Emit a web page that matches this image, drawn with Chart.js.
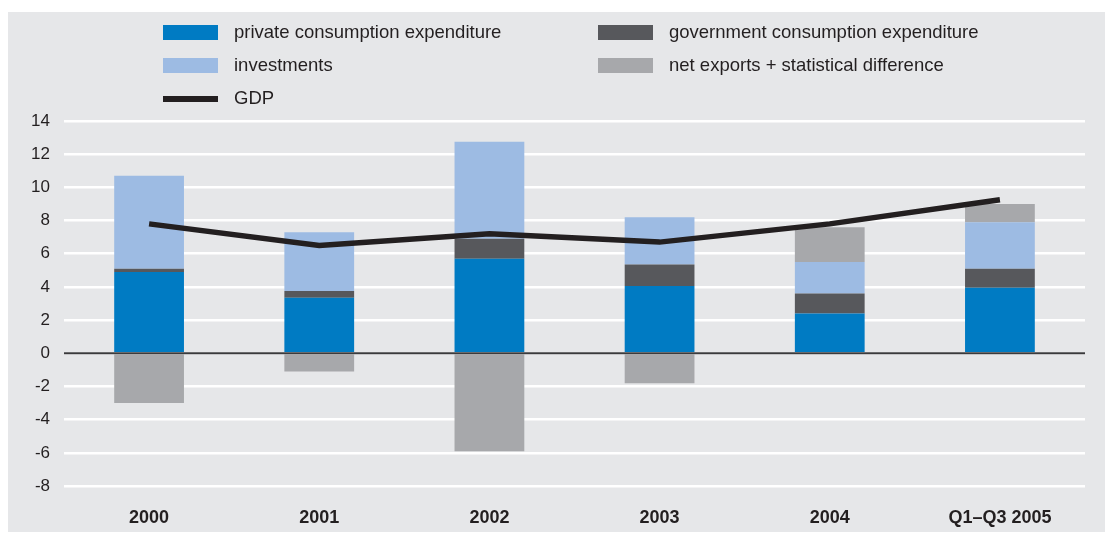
<!DOCTYPE html>
<html>
<head>
<meta charset="utf-8">
<script src="https://cdn.jsdelivr.net/npm/chart.js@4/dist/chart.umd.min.js"></script>
<style>
  body { margin: 0; background: #fff; font-family: "Liberation Sans", Arial, sans-serif; }
  #wrap { position: relative; width: 1105px; height: 534px; }
  #panel { position: absolute; left: 8px; top: 12px; width: 1097px; height: 520px; background: #e6e7e9; }
  #myChart { position: absolute; left: 0; top: 0; }
  .key { position: absolute; font-size: 18.5px; color: #231f20; line-height: 20px; }
  .key .sw { position: absolute; width: 55px; height: 15px; top: 3px; }
  .key .ln { position: absolute; width: 55px; height: 6px; top: 8px; background: #231f20; }
  .key span.t { position: absolute; white-space: nowrap; }
</style>
</head>
<body>
<div id="wrap">
  <div id="panel"></div>
  <canvas id="myChart" width="1105" height="534"></canvas>
  <div id="legend"></div>
</div>
<script>
// categories and series (percent contributions)
const categories = ["2000", "2001", "2002", "2003", "2004", "Q1\u2013Q3 2005"]
const privateConsumption = [4.9, 3.35, 5.7, 4.05, 2.4, 3.95]
const governmentConsumption = [0.2, 0.4, 1.2, 1.3, 1.2, 1.15]
const investments = [5.6, 3.55, 5.85, 2.85, 1.9, 2.8]
const netExports = [-3.0, -1.1, -5.9, -1.8, 2.1, 1.1]
const gdp = [7.8, 6.5, 7.2, 6.7, 7.8, 9.25]
const yTicks = [14, 12, 10, 8, 6, 4, 2, 0, -2, -4, -6, -8]

const colors = {
    private: "#007bc3",
    government: "#57585c",
    investments: "#9dbbe3",
    net: "#a7a8ab",
    gdp: "#231f20"
}

// legend laid out in two columns like a printed key
const legendItems = [
    { text: "private consumption expenditure", color: colors.private, x: 163, y: 22 },
    { text: "government consumption expenditure", color: colors.government, x: 598, y: 22 },
    { text: "investments", color: colors.investments, x: 163, y: 55 },
    { text: "net exports + statistical difference", color: colors.net, x: 598, y: 55 },
    { text: "GDP", color: colors.gdp, x: 163, y: 88, line: true }
]
let legend = document.getElementById("legend")
legendItems.forEach(item => {
    let k = document.createElement("div")
    k.className = "key"
    k.style.left = item.x + "px"
    k.style.top = item.y + "px"
    let sw = document.createElement("div")
    sw.className = item.line ? "ln" : "sw"
    if (!item.line) sw.style.background = item.color
    let t = document.createElement("span")
    t.className = "t"
    t.style.left = "71px"
    t.innerText = item.text
    k.appendChild(sw)
    k.appendChild(t)
    legend.appendChild(k)
})

// zero line drawn on top of the bars
const zeroLine = {
    id: "zeroLine",
    afterDatasetsDraw(chart) {
        const y = chart.scales.y.getPixelForValue(0)
        const ctx = chart.ctx
        ctx.save()
        ctx.strokeStyle = "#3a3a3c"
        ctx.lineWidth = 2
        ctx.beginPath()
        ctx.moveTo(chart.chartArea.left, y)
        ctx.lineTo(chart.chartArea.right, y)
        ctx.stroke()
        ctx.restore()
    }
}

const bar = (label, data, color) => ({
    type: "bar",
    label: label,
    data: data,
    backgroundColor: color,
    borderWidth: 0,
    stack: "parts",
    order: 1,
    categoryPercentage: 1,
    barPercentage: 0.41
})

new Chart(document.getElementById("myChart"), {
    data: {
        labels: categories,
        datasets: [
            {
                type: "line",
                label: "GDP",
                data: gdp,
                borderColor: colors.gdp,
                borderWidth: 5.5,
                pointRadius: 0,
                tension: 0,
                stack: "gdp",
                order: 0
            },
            bar("private consumption expenditure", privateConsumption, colors.private),
            bar("government consumption expenditure", governmentConsumption, colors.government),
            bar("investments", investments, colors.investments),
            bar("net exports + statistical difference", netExports, colors.net)
        ]
    },
    options: {
        responsive: false,
        animation: false,
        layout: { padding: { top: 121, right: 20, bottom: 0, left: 0 } },
        plugins: {
            legend: { display: false },
            tooltip: { enabled: false }
        },
        scales: {
            x: {
                stacked: true,
                grid: { display: false },
                border: { display: false },
                ticks: {
                    padding: 13,
                    color: "#231f20",
                    font: { family: "Liberation Sans", size: 18, weight: "bold" }
                },
                afterFit: scale => { scale.height = 48 }
            },
            y: {
                stacked: true,
                min: -8,
                max: 14,
                afterBuildTicks: scale => { scale.ticks = yTicks.map(v => ({ value: v })) },
                grid: {
                    color: "#ffffff",
                    lineWidth: 2.5,
                    drawTicks: false
                },
                border: { display: false },
                ticks: {
                    padding: 14,
                    color: "#231f20",
                    font: { family: "Liberation Sans", size: 17 }
                },
                afterFit: scale => { scale.width = 64 }
            }
        }
    },
    plugins: [zeroLine]
})
</script>
</body>
</html>
